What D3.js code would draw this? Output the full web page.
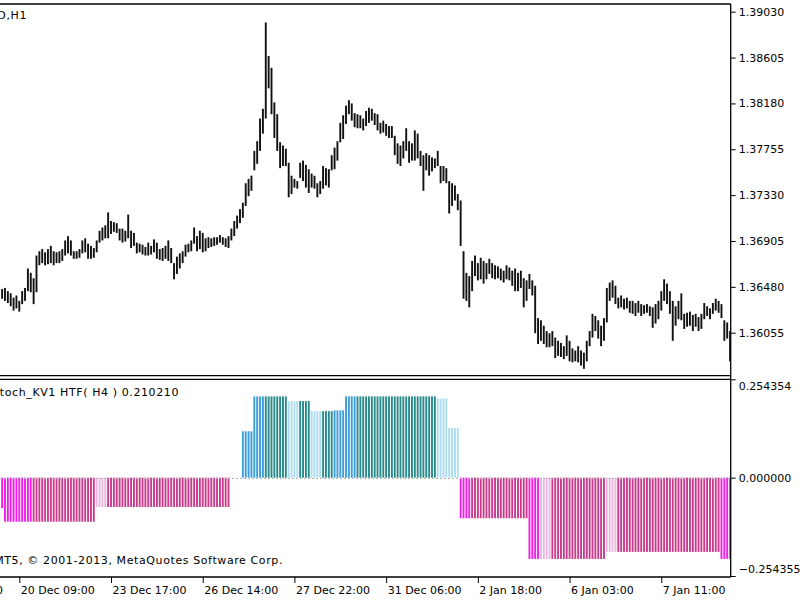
<!DOCTYPE html>
<html>
<head>
<meta charset="utf-8">
<script src="https://cdn.jsdelivr.net/npm/d3@7"></script>
<style>
  body { margin: 0; background: #fff; }
  svg { display: block; }
  text { font-family: "DejaVu Sans", sans-serif; font-size: 11px; fill: #000; }
  .title { letter-spacing: 0.6px; }
</style>
</head>
<body>
<svg id="chart" width="800" height="600"></svg>
<script>
// chart texts
const symbolTitle = "EURUSD,H1";
const stochTitle = "Stoch_KV1 HTF( H4 ) 0.210210";
const copyright = "MT5, \u00a9 2001-2013, MetaQuotes Software Corp.";

// H1 bars, high and low
const highs = [
  1.3646,1.3647,1.3644,1.3642,1.3638,1.3640,1.3635,1.3644,1.3647,1.3665,
  1.3661,1.3656,1.3677,1.3681,1.3683,1.3680,1.3683,1.3686,1.3681,1.3680,
  1.3681,1.3683,1.3691,1.3695,1.3691,1.3681,1.3681,1.3683,1.3691,1.3693,
  1.3688,1.3686,1.3684,1.3691,1.3700,1.3703,1.3705,1.3717,1.3709,1.3708,
  1.3707,1.3702,1.3702,1.3700,1.3715,1.3700,1.3698,1.3689,1.3688,1.3687,
  1.3685,1.3689,1.3686,1.3692,1.3689,1.3683,1.3684,1.3686,1.3691,1.3684,
  1.3670,1.3676,1.3679,1.3681,1.3687,1.3688,1.3691,1.3703,1.3695,1.3700,
  1.3698,1.3693,1.3694,1.3693,1.3694,1.3694,1.3696,1.3694,1.3693,1.3695,
  1.3702,1.3709,1.3714,1.3720,1.3726,1.3744,1.3748,1.3751,1.3774,1.3783,
  1.3804,1.3813,1.3893,1.3862,1.3851,1.3819,1.3808,1.3782,1.3779,1.3776,
  1.3763,1.3751,1.3748,1.3746,1.3763,1.3765,1.3761,1.3757,1.3753,1.3751,
  1.3744,1.3746,1.3760,1.3758,1.3757,1.3770,1.3777,1.3783,1.3800,1.3807,
  1.3816,1.3821,1.3818,1.3809,1.3808,1.3807,1.3804,1.3811,1.3814,1.3813,
  1.3809,1.3808,1.3800,1.3802,1.3799,1.3797,1.3797,1.3788,1.3781,1.3779,
  1.3783,1.3795,1.3783,1.3781,1.3793,1.3790,1.3774,1.3770,1.3772,1.3770,
  1.3768,1.3767,1.3774,1.3760,1.3760,1.3758,1.3746,1.3744,1.3742,1.3734,
  1.3728,1.3681,1.3661,1.3658,1.3672,1.3677,1.3670,1.3675,1.3672,1.3670,
  1.3674,1.3670,1.3668,1.3667,1.3665,1.3663,1.3668,1.3666,1.3663,1.3665,
  1.3661,1.3663,1.3656,1.3654,1.3660,1.3654,1.3649,1.3619,1.3617,1.3612,
  1.3607,1.3605,1.3607,1.3601,1.3598,1.3596,1.3593,1.3603,1.3598,1.3591,
  1.3589,1.3593,1.3589,1.3587,1.3598,1.3607,1.3623,1.3621,1.3617,1.3612,
  1.3619,1.3647,1.3652,1.3654,1.3649,1.3638,1.3640,1.3637,1.3638,1.3635,
  1.3635,1.3633,1.3635,1.3632,1.3631,1.3632,1.3630,1.3629,1.3632,1.3635,
  1.3644,1.3655,1.3651,1.3644,1.3635,1.3630,1.3635,1.3642,1.3623,1.3624,
  1.3625,1.3622,1.3623,1.3620,1.3623,1.3633,1.3630,1.3628,1.3633,1.3637,
  1.3635,1.3632,1.3617,1.3615,1.3607
];
const lows = [
  1.3637,1.3635,1.3633,1.3630,1.3626,1.3628,1.3625,1.3632,1.3635,1.3644,
  1.3643,1.3632,1.3643,1.3668,1.3670,1.3668,1.3669,1.3670,1.3668,1.3670,
  1.3670,1.3672,1.3677,1.3679,1.3677,1.3674,1.3674,1.3675,1.3679,1.3680,
  1.3674,1.3674,1.3675,1.3680,1.3689,1.3691,1.3693,1.3693,1.3697,1.3699,
  1.3698,1.3691,1.3689,1.3690,1.3693,1.3684,1.3686,1.3679,1.3680,1.3678,
  1.3677,1.3677,1.3678,1.3680,1.3674,1.3673,1.3672,1.3674,1.3672,1.3670,
  1.3655,1.3660,1.3665,1.3670,1.3676,1.3680,1.3681,1.3688,1.3681,1.3683,
  1.3680,1.3681,1.3684,1.3685,1.3686,1.3687,1.3689,1.3687,1.3685,1.3684,
  1.3691,1.3695,1.3702,1.3707,1.3712,1.3723,1.3732,1.3737,1.3756,1.3762,
  1.3774,1.3790,1.3804,1.3832,1.3808,1.3786,1.3774,1.3758,1.3760,1.3760,
  1.3731,1.3734,1.3740,1.3739,1.3749,1.3746,1.3740,1.3735,1.3740,1.3739,
  1.3731,1.3734,1.3739,1.3742,1.3740,1.3756,1.3757,1.3765,1.3782,1.3785,
  1.3799,1.3808,1.3802,1.3796,1.3795,1.3795,1.3793,1.3797,1.3800,1.3802,
  1.3798,1.3793,1.3790,1.3791,1.3788,1.3786,1.3786,1.3770,1.3762,1.3760,
  1.3767,1.3774,1.3763,1.3765,1.3765,1.3767,1.3760,1.3737,1.3756,1.3751,
  1.3755,1.3758,1.3760,1.3744,1.3746,1.3744,1.3716,1.3723,1.3728,1.3719,
  1.3686,1.3637,1.3635,1.3629,1.3644,1.3658,1.3654,1.3655,1.3651,1.3655,
  1.3660,1.3656,1.3655,1.3656,1.3654,1.3652,1.3655,1.3654,1.3649,1.3644,
  1.3644,1.3647,1.3629,1.3635,1.3646,1.3640,1.3605,1.3595,1.3598,1.3595,
  1.3592,1.3592,1.3593,1.3582,1.3584,1.3583,1.3581,1.3584,1.3579,1.3578,
  1.3579,1.3578,1.3575,1.3572,1.3579,1.3593,1.3601,1.3607,1.3600,1.3593,
  1.3598,1.3615,1.3635,1.3638,1.3632,1.3628,1.3629,1.3627,1.3628,1.3624,
  1.3623,1.3621,1.3624,1.3621,1.3623,1.3624,1.3621,1.3610,1.3614,1.3618,
  1.3626,1.3635,1.3632,1.3623,1.3598,1.3612,1.3618,1.3617,1.3609,1.3611,
  1.3612,1.3607,1.3611,1.3607,1.3609,1.3618,1.3621,1.3618,1.3623,1.3626,
  1.3624,1.3619,1.3598,1.3600,1.3579
];

// HTF stochastic histogram, one value per H1 bar
const stochVal = [
  -0.079,-0.114,-0.114,-0.114,-0.114,-0.114,-0.114,-0.114,-0.114,-0.114,
  -0.114,-0.114,-0.114,-0.114,-0.114,-0.114,-0.114,-0.114,-0.114,-0.114,
  -0.114,-0.114,-0.114,-0.114,-0.114,-0.114,-0.114,-0.114,-0.114,-0.114,
  -0.114,-0.114,-0.114,-0.076,-0.076,-0.076,-0.076,-0.076,-0.076,-0.076,
  -0.076,-0.076,-0.076,-0.076,-0.076,-0.076,-0.076,-0.076,-0.076,-0.076,
  -0.076,-0.076,-0.076,-0.076,-0.076,-0.076,-0.076,-0.076,-0.076,-0.076,
  -0.076,-0.076,-0.076,-0.076,-0.076,-0.076,-0.076,-0.076,-0.076,-0.076,
  -0.076,-0.076,-0.076,-0.076,-0.076,-0.076,-0.076,-0.076,-0.076,-0.076,
  0,0,0,0,0.120,0.120,0.120,0.120,0.2102,0.2102,
  0.2102,0.2102,0.2102,0.2102,0.2102,0.2102,0.2102,0.2102,0.2102,0.2102,
  0.198,0.198,0.198,0.198,0.198,0.198,0.198,0.198,0.172,0.172,
  0.172,0.172,0.172,0.172,0.172,0.172,0.174,0.174,0.174,0.174,
  0.2102,0.2102,0.2102,0.2102,0.2102,0.2102,0.2102,0.2102,0.2102,0.2102,
  0.2102,0.2102,0.2102,0.2102,0.2102,0.2102,0.2102,0.2102,0.2102,0.2102,
  0.2102,0.2102,0.2102,0.2102,0.2102,0.2102,0.2102,0.2102,0.2102,0.2102,
  0.2102,0.2102,0.205,0.205,0.205,0.205,0.128,0.128,0.128,0.128,
  -0.105,-0.105,-0.105,-0.105,-0.105,-0.105,-0.105,-0.105,-0.105,-0.105,
  -0.105,-0.105,-0.105,-0.105,-0.105,-0.105,-0.105,-0.105,-0.105,-0.105,
  -0.105,-0.105,-0.105,-0.105,-0.2102,-0.2102,-0.2102,-0.2102,-0.2102,-0.2102,
  -0.2102,-0.2102,-0.2102,-0.2102,-0.2102,-0.2102,-0.2102,-0.2102,-0.2102,-0.2102,
  -0.2102,-0.2102,-0.2102,-0.2102,-0.2102,-0.2102,-0.2102,-0.2102,-0.2102,-0.2102,
  -0.2102,-0.192,-0.192,-0.192,-0.192,-0.192,-0.192,-0.192,-0.192,-0.192,
  -0.192,-0.192,-0.192,-0.192,-0.192,-0.192,-0.192,-0.192,-0.192,-0.192,
  -0.192,-0.192,-0.192,-0.192,-0.192,-0.192,-0.192,-0.192,-0.192,-0.192,
  -0.192,-0.192,-0.192,-0.192,-0.192,-0.192,-0.192,-0.192,-0.192,-0.192,
  -0.192,-0.2102,-0.2102,-0.2102,-0.2102
];
// colour state per bar: M falling, V flat, P rising (below zero); B rising, C flat, L falling (above zero)
const stochState = [
  "MMMMMMMMMM","MVVVVVVVVV","VVVVVVVVVV","VVVPPPPVVV","VVVVVVVVVV",
  "VVVVVVVVVV","VVVVVVVVVV","VVVVVVVVVV","CCCCBBBBBB","BBCCCCCCCC",
  "LLLLCCCCLL","LLCCCCBBBB","BBBBCCCCCC","CCCCCCCCCC","CCCCCCCCCC",
  "CCLLLLLLLL","MMMMVVVVVV","VVVVVVVVVV","VVVVMMMMPP","PPVVVVVVVV",
  "VVVVVVVVVV","VPPPPVVVVV","VVVVVVVVVV","VVVVVVVVVV","VVVVVVVVVV",
  "VMMMM"
].join("");
const stateColors = { M: "#f01ee6", V: "#c83c8c", P: "#e8b8de", B: "#3c9cdc", C: "#2a8a8a", L: "#acdcee" };

// axes
const priceTicks = [1.39030, 1.38605, 1.38180, 1.37755, 1.37330, 1.36905, 1.36480, 1.36055];
const stochTicks = [0.254354, 0.000000, -0.254355];
const timeIdx = [-26, 6, 38, 70, 102, 134, 166, 198, 230];
const timeLabels = ["19 Dec 01:00", "20 Dec 09:00", "23 Dec 17:00", "26 Dec 14:00", "27 Dec 22:00",
                    "31 Dec 06:00", "2 Jan 18:00", "6 Jan 03:00", "7 Jan 11:00"];

const svg = d3.select("#chart");
const R = 730.7;          // right edge of the plot area
const mainTop = 4, mainBottom = 375.7, subTop = 379.3, subBottom = 577;

const x = d3.scaleLinear().domain([0, highs.length - 1]).range([2.1, 2.1 + (highs.length - 1) * 2.866]);
const yP = d3.scaleLinear().domain([1.36055, 1.39030]).range([332.7, 11.7]);
const yS = d3.scaleLinear().domain([-0.254355, 0.254354]).range([subBottom - 1, subTop]);
const barW = 1.9;

const defs = svg.append("defs");
defs.append("clipPath").attr("id", "clipMain")
  .append("rect").attr("x", 0).attr("y", mainTop).attr("width", R).attr("height", mainBottom - mainTop);
defs.append("clipPath").attr("id", "clipSub")
  .append("rect").attr("x", 0).attr("y", subTop).attr("width", R).attr("height", subBottom - subTop);

// price bars
svg.append("g").attr("clip-path", "url(#clipMain)")
  .selectAll("rect")
  .data(highs)
  .join("rect")
    .attr("x", (d, i) => x(i) - barW / 2)
    .attr("width", barW)
    .attr("y", d => yP(d))
    .attr("height", (d, i) => Math.max(1, yP(lows[i]) - yP(d)))
    .attr("fill", "#111");

// histogram
svg.append("g").attr("clip-path", "url(#clipSub)")
  .selectAll("rect")
  .data(stochVal)
  .join("rect")
    .attr("x", (d, i) => x(i) - barW / 2)
    .attr("width", barW)
    .attr("y", d => Math.min(yS(d), yS(0)))
    .attr("height", d => Math.abs(yS(d) - yS(0)))
    .attr("fill", (d, i) => stateColors[stochState[i]]);

// zero level, dotted
svg.append("line")
  .attr("x1", 0).attr("x2", R)
  .attr("y1", Math.round(yS(0)) + 0.5).attr("y2", Math.round(yS(0)) + 0.5)
  .attr("stroke", "#b4b4b4").attr("stroke-dasharray", "2,2");

// frame
const frame = svg.append("g").attr("stroke", "#000").attr("fill", "none");
frame.append("line").attr("x1", 0).attr("x2", R).attr("y1", mainTop).attr("y2", mainTop).attr("stroke-width", 1.6);
frame.append("line").attr("x1", 0).attr("x2", R).attr("y1", mainBottom).attr("y2", mainBottom).attr("stroke-width", 1.3);
frame.append("line").attr("x1", 0).attr("x2", R).attr("y1", subTop).attr("y2", subTop).attr("stroke-width", 1.3);
frame.append("line").attr("x1", 0).attr("x2", R).attr("y1", subBottom).attr("y2", subBottom).attr("stroke-width", 1.3);
frame.append("line").attr("x1", R).attr("x2", R).attr("y1", mainTop).attr("y2", subBottom).attr("stroke-width", 1.3);

// price axis
const pAxis = svg.append("g").attr("transform", `translate(${R},0)`)
  .call(d3.axisRight(yP).tickValues(priceTicks).tickSize(5).tickPadding(3).tickFormat(d3.format(".5f")));
pAxis.select(".domain").remove();
pAxis.selectAll("line").attr("stroke", "#000");
pAxis.selectAll("text").attr("font-family", "DejaVu Sans").attr("font-size", 11).attr("fill", "#000");

// indicator axis
const sAxis = svg.append("g").attr("transform", `translate(${R},0)`)
  .call(d3.axisRight(yS).tickValues(stochTicks).tickSize(5).tickPadding(3).tickFormat(d3.format(".6f")));
sAxis.select(".domain").remove();
sAxis.selectAll("line").attr("stroke", "#000");
sAxis.selectAll("text").attr("font-family", "DejaVu Sans").attr("font-size", 11).attr("fill", "#000")
  .attr("dy", (d, i) => i === 0 ? "0.95em" : i === 2 ? "-0.35em" : "0.32em");

// time axis
const tAxis = svg.append("g").attr("transform", `translate(0,${subBottom})`)
  .call(d3.axisBottom(x).tickValues(timeIdx).tickSize(6).tickPadding(3).tickFormat((d, i) => timeLabels[i]));
tAxis.select(".domain").remove();
tAxis.selectAll("line").attr("stroke", "#000");
tAxis.selectAll("text").attr("font-family", "DejaVu Sans").attr("font-size", 11).attr("fill", "#000")
  .attr("text-anchor", "start").attr("x", 1);

// titles, cut at the left edge as in the terminal window
svg.append("text").attr("class", "title").attr("x", 27).attr("y", 19).attr("text-anchor", "end").text(symbolTitle);
svg.append("text").attr("class", "title").attr("x", 179).attr("y", 396).attr("text-anchor", "end").text(stochTitle);
svg.append("text").attr("class", "title").attr("x", 283).attr("y", 564).attr("text-anchor", "end").text(copyright);
</script>
</body>
</html>
